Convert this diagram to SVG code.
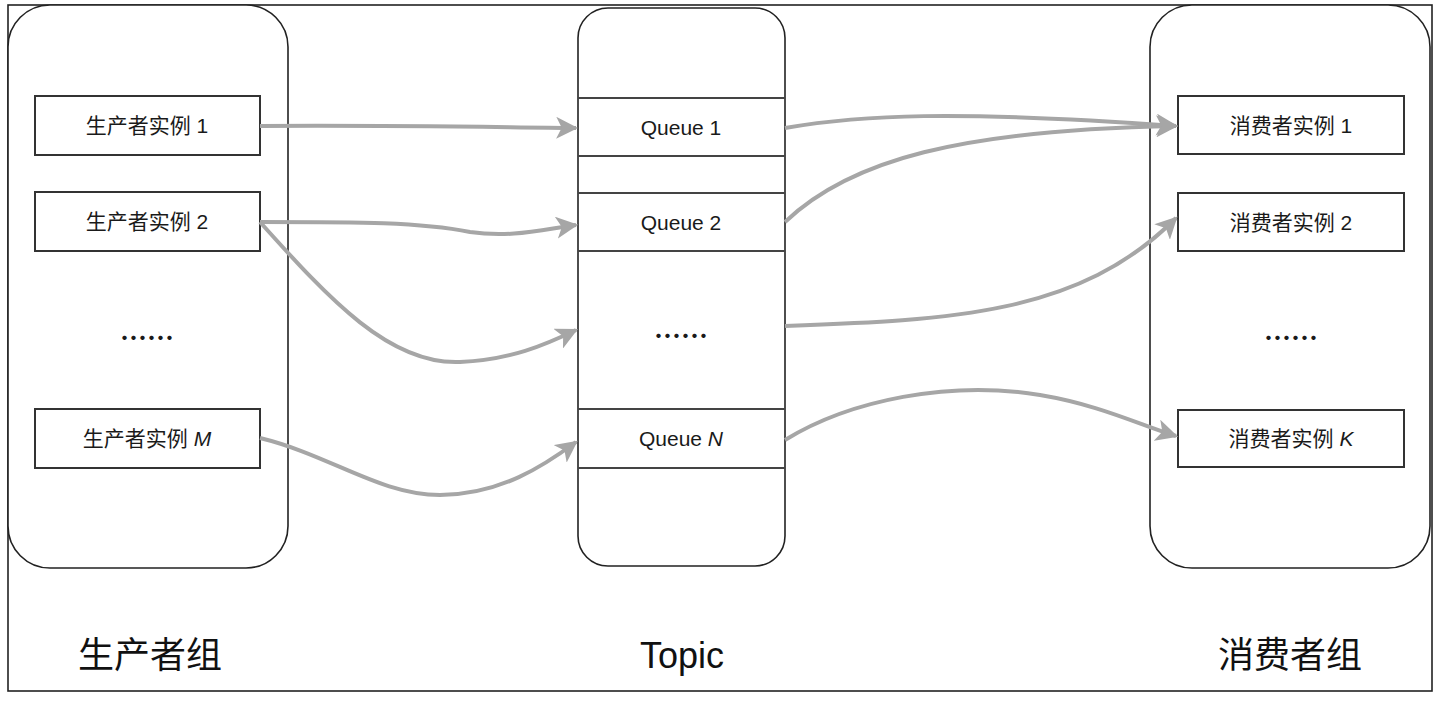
<svg xmlns="http://www.w3.org/2000/svg" width="1454" height="702" viewBox="0 0 1454 702">
<style>
.grp{fill:#fff;stroke:#222;stroke-width:1.6}
.box{fill:#fff;stroke:#333;stroke-width:2}
.row{stroke:#444;stroke-width:2}
.t{font-family:"Liberation Sans","Noto Sans CJK SC",sans-serif;font-size:21px;fill:#1a1a1a;text-anchor:middle}
.d{font-family:"Noto Sans CJK SC",sans-serif;font-size:27px;font-weight:bold;fill:#1a1a1a;text-anchor:middle}
.big{font-family:"Liberation Sans","Noto Sans CJK SC",sans-serif;font-size:36px;fill:#111;text-anchor:middle}
.c{fill:none;stroke:#a6a6a6;stroke-width:4}
</style>
<defs>
<marker id="ah" viewBox="0 0 10 10" refX="9" refY="5" markerWidth="5.5" markerHeight="5.5" markerUnits="strokeWidth" orient="auto">
<path d="M0,0 L10,5 L0,10 L2.5,5 Z" fill="#a6a6a6"/>
</marker>
</defs>
<rect x="8" y="5" width="1424" height="686" fill="#fff" stroke="#222" stroke-width="1.6"/>
<g id="producer-group">
<rect class="grp" x="8" y="5" width="280" height="563" rx="42"/>
<text class="big" x="150" y="668">生产者组</text>
</g>
<g id="topic">
<rect class="grp" x="578" y="8" width="207" height="558" rx="30"/>
<line class="row" x1="578" y1="98" x2="785" y2="98"/>
<line class="row" x1="578" y1="156" x2="785" y2="156"/>
<line class="row" x1="578" y1="193" x2="785" y2="193"/>
<line class="row" x1="578" y1="251" x2="785" y2="251"/>
<line class="row" x1="578" y1="409" x2="785" y2="409"/>
<line class="row" x1="578" y1="468" x2="785" y2="468"/>
<text class="big" x="682" y="668">Topic</text>
</g>
<g id="consumer-group">
<rect class="grp" x="1150" y="5" width="280" height="563" rx="42"/>
<text class="big" x="1290" y="668">消费者组</text>
</g>
<g id="producer-1"><rect class="box" x="35" y="96" width="225" height="59"/><text class="t" x="147" y="133">生产者实例 1</text></g>
<g id="producer-2"><rect class="box" x="35" y="192" width="225" height="59"/><text class="t" x="147" y="229">生产者实例 2</text></g>
<g id="producer-dots"><text class="d" x="147" y="348">……</text></g>
<g id="producer-m"><rect class="box" x="35" y="409" width="225" height="59"/><text class="t" x="147" y="446">生产者实例 <tspan font-style="italic">M</tspan></text></g>
<g id="queue-1"><text class="t" x="681" y="135">Queue 1</text></g>
<g id="queue-2"><text class="t" x="681" y="230">Queue 2</text></g>
<g id="queue-dots"><text class="d" x="681" y="346">……</text></g>
<g id="queue-n"><text class="t" x="681" y="446">Queue <tspan font-style="italic">N</tspan></text></g>
<g id="consumer-1"><rect class="box" x="1178" y="96" width="226" height="58"/><text class="t" x="1291" y="133">消费者实例 1</text></g>
<g id="consumer-2"><rect class="box" x="1178" y="193" width="226" height="58"/><text class="t" x="1291" y="230">消费者实例 2</text></g>
<g id="consumer-dots"><text class="d" x="1291" y="348">……</text></g>
<g id="consumer-k"><rect class="box" x="1178" y="410" width="226" height="57"/><text class="t" x="1291" y="446">消费者实例 <tspan font-style="italic">K</tspan></text></g>
<g id="connectors">
<path class="c" marker-end="url(#ah)" d="M260,126 C380,125 480,127 576,128"/>
<path class="c" marker-end="url(#ah)" d="M260,222 C360,222 420,222 470,232 C510,238 540,230 576,225"/>
<path class="c" marker-end="url(#ah)" d="M260,222 C330,300 390,365 460,362 C510,360 545,345 576,330"/>
<path class="c" marker-end="url(#ah)" d="M260,438 C330,455 380,495 440,495 C500,495 545,465 576,442"/>
<path class="c" marker-end="url(#ah)" d="M785,128 C860,115 950,110 1176,126"/>
<path class="c" marker-end="url(#ah)" d="M785,222 C850,160 960,130 1176,126"/>
<path class="c" marker-end="url(#ah)" d="M785,326 C950,320 1080,315 1176,218"/>
<path class="c" marker-end="url(#ah)" d="M785,440 C850,400 950,380 1040,395 C1100,405 1140,425 1176,436"/>
</g>
</svg>
